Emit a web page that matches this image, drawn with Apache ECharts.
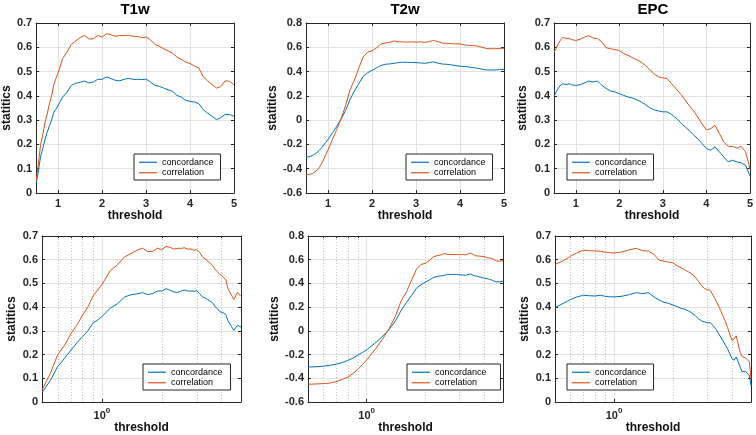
<!DOCTYPE html>
<html><head><meta charset="utf-8">
<script src="https://cdn.jsdelivr.net/npm/echarts@6/dist/echarts.min.js"></script>
<style>html,body{margin:0;padding:0;background:#fff}#c{width:756px;height:435px}</style>
</head><body><div id="c"></div>
<script>
// ---- data ----
const thresholds = [0.5,0.55,0.6,0.65,0.7,0.75,0.8,0.85,0.9,0.95,1.0,1.1,1.2,1.3,1.4,1.5,1.6,1.7,1.8,1.9,2.0,2.1,2.2,2.3,2.4,2.5,2.6,2.7,2.8,2.9,3.0,3.1,3.2,3.3,3.4,3.5,3.6,3.7,3.8,3.9,4.0,4.1,4.2,4.3,4.4,4.5,4.6,4.7,4.8,4.9,5.0];

const t1wConcordance = [0.04,0.09,0.15,0.185,0.22,0.25,0.276,0.3,0.332,0.345,0.36,0.395,0.415,0.443,0.452,0.456,0.461,0.453,0.457,0.468,0.468,0.478,0.471,0.464,0.462,0.468,0.472,0.468,0.468,0.467,0.469,0.457,0.443,0.439,0.432,0.425,0.419,0.402,0.395,0.382,0.377,0.375,0.368,0.343,0.329,0.316,0.302,0.31,0.324,0.323,0.316];
const t1wCorrelation = [0.05,0.12,0.2,0.24,0.29,0.325,0.367,0.4,0.445,0.472,0.495,0.553,0.58,0.612,0.626,0.64,0.649,0.634,0.635,0.649,0.642,0.656,0.652,0.645,0.648,0.648,0.65,0.645,0.645,0.64,0.642,0.631,0.612,0.604,0.594,0.585,0.576,0.56,0.55,0.539,0.533,0.523,0.515,0.478,0.462,0.447,0.432,0.438,0.462,0.46,0.445];

const t2wConcordance = [-0.305,-0.303,-0.298,-0.29,-0.28,-0.267,-0.25,-0.23,-0.205,-0.183,-0.16,-0.105,-0.05,0.01,0.08,0.17,0.24,0.3,0.36,0.39,0.41,0.43,0.45,0.46,0.463,0.468,0.474,0.477,0.476,0.475,0.474,0.471,0.468,0.474,0.48,0.47,0.462,0.46,0.455,0.45,0.444,0.442,0.438,0.432,0.427,0.42,0.413,0.413,0.413,0.416,0.419];
const t2wCorrelation = [-0.45,-0.448,-0.445,-0.44,-0.427,-0.41,-0.39,-0.36,-0.325,-0.285,-0.245,-0.16,-0.075,0.015,0.12,0.25,0.33,0.43,0.52,0.56,0.57,0.595,0.625,0.635,0.64,0.652,0.645,0.645,0.643,0.645,0.642,0.645,0.64,0.648,0.656,0.647,0.634,0.632,0.63,0.628,0.628,0.62,0.616,0.614,0.61,0.6,0.59,0.588,0.588,0.59,0.592];

const epcConcordance = [0.398,0.416,0.432,0.444,0.45,0.448,0.447,0.45,0.446,0.444,0.443,0.446,0.453,0.461,0.457,0.461,0.443,0.43,0.42,0.416,0.409,0.402,0.395,0.391,0.384,0.375,0.364,0.351,0.342,0.338,0.334,0.334,0.323,0.309,0.292,0.274,0.258,0.24,0.224,0.203,0.183,0.176,0.19,0.169,0.148,0.128,0.135,0.128,0.124,0.114,0.07];
const epcCorrelation = [0.58,0.595,0.615,0.63,0.64,0.638,0.637,0.636,0.632,0.63,0.628,0.633,0.642,0.648,0.638,0.636,0.622,0.598,0.594,0.59,0.587,0.574,0.567,0.557,0.549,0.539,0.526,0.508,0.49,0.478,0.474,0.471,0.45,0.43,0.409,0.386,0.361,0.34,0.313,0.285,0.26,0.265,0.279,0.244,0.21,0.192,0.192,0.185,0.192,0.17,0.1];

const panelTitles = ['T1w','T2w','EPC'];
const seriesNames = ['concordance','correlation'];
const linearXTicks = [1,2,3,4,5];
const logMajorTicks = [1];
const logMinorTicks = [0.6,0.7,0.8,0.9,2,3,4];
const panelData = [
  [t1wConcordance, t1wCorrelation],
  [t2wConcordance, t2wCorrelation],
  [epcConcordance, epcCorrelation]
];
const yScales = [
  {min:0, max:0.7, interval:0.1},
  {min:-0.6, max:0.8, interval:0.2},
  {min:0, max:0.7, interval:0.1}
];

// ---- layout / style ----
const FONT = '"Liberation Sans", Arial, sans-serif';
const AX = '#262626';
const GRIDC = '#e2e2e2';
const colors = ['#0072BD', '#D95319'];
const grids = [
  {left:36, top:23, width:198, height:170},
  {left:306, top:23, width:198, height:170},
  {left:554, top:23, width:198, height:170},
  {left:42, top:236, width:199, height:166},
  {left:308, top:236, width:195, height:166},
  {left:555, top:236, width:196, height:166}
];
const legendPos = [
  {left:134, top:154}, {left:406, top:154}, {left:567, top:154},
  {left:143, top:364}, {left:407, top:364}, {left:567, top:364}
];
const legendPadRight = [7, 7, 7, 8, 14, 7];
const yNameGap = [22, 25, 25, 24, 27, 24];
const xNameGap = [14, 14, 14, 18, 18, 18];

const xAxes = [], yAxes = [], series = [], legends = [], graphics = [];
const labelStyle = {fontFamily: FONT, fontWeight: 'bold', fontSize: 11, color: AX};
const nameStyle = {fontFamily: FONT, fontWeight: 'bold', fontSize: 12, color: '#111'};

for (let i = 0; i < 6; i++) {
  const col = i % 3, isLog = i >= 3;
  const ys = yScales[col];
  const common = {gridIndex: i, min: 0.5, max: 5};
  if (!isLog) {
    xAxes.push(Object.assign({}, common, {
      type: 'value', position: 'bottom',
      axisLine: {show: true, onZero: false, lineStyle: {color: AX}},
      axisTick: {show: true, inside: true, length: 3, customValues: linearXTicks, lineStyle: {color: AX}},
      axisLabel: Object.assign({customValues: linearXTicks, margin: 5}, labelStyle),
      splitLine: {show: true, lineStyle: {color: GRIDC}},
      name: 'threshold', nameLocation: 'middle', nameGap: xNameGap[i], nameTextStyle: nameStyle
    }));
    xAxes.push(Object.assign({}, common, {
      type: 'value', position: 'top',
      axisLine: {show: true, onZero: false, lineStyle: {color: AX}},
      axisTick: {show: true, inside: true, length: 3, customValues: linearXTicks, lineStyle: {color: AX}},
      axisLabel: {show: false}, splitLine: {show: false}
    }));
  } else {
    xAxes.push(Object.assign({}, common, {
      type: 'log', logBase: 10, position: 'bottom',
      axisLine: {show: true, onZero: false, lineStyle: {color: AX}},
      axisTick: {show: true, inside: true, length: 3, customValues: logMajorTicks, lineStyle: {color: AX}},
      axisLabel: Object.assign({customValues: logMajorTicks, margin: 5,
        formatter: () => '{b|10}{s|0}',
        rich: {
          b: {fontFamily: FONT, fontWeight: 'bold', fontSize: 11, color: AX, verticalAlign: 'bottom'},
          s: {fontFamily: FONT, fontWeight: 'bold', fontSize: 8, color: AX, verticalAlign: 'top', padding: [0,0,6,0]}
        }}, labelStyle),
      splitLine: {show: true, lineStyle: {color: GRIDC}},
      name: 'threshold', nameLocation: 'middle', nameGap: xNameGap[i], nameTextStyle: nameStyle
    }));
    xAxes.push(Object.assign({}, common, {
      type: 'log', logBase: 10, position: 'top',
      axisLine: {show: true, onZero: false, lineStyle: {color: AX}},
      axisTick: {show: true, inside: true, length: 2, customValues: logMinorTicks, lineStyle: {color: AX}},
      axisLabel: {show: false},
      splitLine: {show: true, lineStyle: {color: '#c4c4c4', type: [1, 2]}}
    }));
  }
  yAxes.push({
    type: 'value', gridIndex: i, position: 'left', min: ys.min, max: ys.max, interval: ys.interval,
    axisLine: {show: true, onZero: false, lineStyle: {color: AX}},
    axisTick: {show: true, inside: true, length: 3, lineStyle: {color: AX}},
    axisLabel: Object.assign({margin: 4}, labelStyle),
    splitLine: {show: true, lineStyle: {color: GRIDC}},
    name: 'statitics', nameLocation: 'middle', nameGap: yNameGap[i], nameRotate: 90, nameTextStyle: nameStyle
  });
  yAxes.push({
    type: 'value', gridIndex: i, position: 'right', min: ys.min, max: ys.max, interval: ys.interval,
    axisLine: {show: true, onZero: false, lineStyle: {color: AX}},
    axisTick: {show: true, inside: true, length: 3, lineStyle: {color: AX}},
    axisLabel: {show: false}, splitLine: {show: false}
  });
  panelData[col].forEach((vals, k) => {
    series.push({
      type: 'line', name: seriesNames[k], xAxisIndex: 2 * i, yAxisIndex: 2 * i,
      data: thresholds.map((t, j) => [t, vals[j]]),
      symbol: 'none', smooth: false, silent: true, animation: false,
      lineStyle: {width: 1, color: colors[k]}, itemStyle: {color: colors[k]}
    });
  });
  legends.push({
    left: legendPos[i].left, top: legendPos[i].top, orient: 'vertical',
    backgroundColor: '#fff', borderColor: AX, borderWidth: 1,
    padding: [3, legendPadRight[i], 2, 5], itemWidth: 18, itemHeight: 1.2, itemGap: 0,
    icon: 'rect',
    selectedMode: false, data: seriesNames,
    textStyle: {fontFamily: FONT, fontSize: 9, color: '#000', lineHeight: 10.5}
  });
}
panelTitles.forEach((t, c) => {
  const g = grids[c];
  graphics.push({type: 'text', x: g.left + g.width / 2, y: 2,
    style: {text: t, fill: '#000', font: 'bold 15px ' + FONT, textAlign: 'center', textVerticalAlign: 'top'}});
});

const chart = echarts.init(document.getElementById('c'), null, {renderer: 'canvas'});
chart.setOption({
  animation: false,
  color: colors,
  grid: grids.map(g => Object.assign({containLabel: false}, g)),
  xAxis: xAxes, yAxis: yAxes, series: series, legend: legends, graphic: graphics
});
</script></body></html>
